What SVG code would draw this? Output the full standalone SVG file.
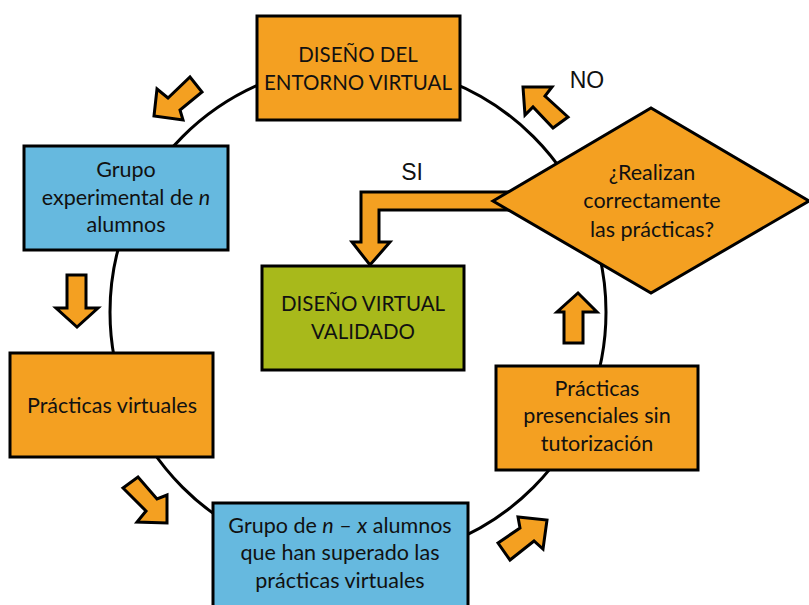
<svg xmlns="http://www.w3.org/2000/svg" width="809" height="605" viewBox="0 0 809 605">
<style>
.o{fill:#F4A021;stroke:#000;stroke-width:3;stroke-linejoin:miter}
.b{fill:#66B9DF;stroke:#000;stroke-width:3}
.g{fill:#A8B91B;stroke:#000;stroke-width:3}
.a{fill:#F4A021;stroke:#000;stroke-width:3;stroke-linejoin:miter}
text{font-family:Lato,"Open Sans","Noto Sans",sans-serif;font-size:21.5px;fill:#111;text-anchor:middle}
.up{font-size:20.5px}
.lab{font-family:"Liberation Sans",Arial,sans-serif;font-size:23px}
</style>
<rect width="809" height="605" fill="#fff"/>
<g id="connectors">
<circle cx="358" cy="312" r="248" fill="none" stroke="#000" stroke-width="3"/>
<path class="a" d="M154 116 L157 89 L168 98 L190 77 L202 92 L180 110 L183 120 Z"/>
<path class="a" d="M67 275 L86 275 L86 308 L98 308 L77 327 L56 308 L67 308 Z"/>
<path class="a" d="M123 488 L138 477 L157 499 L167 495 L167 523 L137 522 L146 511 Z"/>
<path class="a" d="M498 543 L520 528 L518 517 L547 520 L543 549 L534 541 L510 560 Z"/>
<path class="a" d="M564 343 L564 312 L557 312 L578 293 L597 312 L583 312 L583 343 Z"/>
<path class="a" d="M523 87 L552 87 L545 96 L568 117 L553 128 L533 107 L525 115 Z"/>
<path class="a" d="M520 192 L361 192 L361 242 L352 242 L370 265 L390 242 L379 242 L379 210 L520 210 Z"/>
<text class="lab" x="412" y="180">SI</text>
<text class="lab" x="587" y="88">NO</text>
</g>
<g id="n1"><rect class="o" x="257" y="16" width="203" height="104"/><text class="up" x="358" y="62">DISEÑO DEL</text><text class="up" x="358" y="90">ENTORNO VIRTUAL</text></g>
<g id="n2"><rect class="b" x="24" y="146" width="204" height="104"/><text x="126" y="177">Grupo</text><text x="126" y="205">experimental de <tspan font-style="italic">n</tspan></text><text x="126" y="232">alumnos</text></g>
<g id="n3"><rect class="g" x="262" y="266" width="202" height="104"/><text class="up" x="363" y="311">DISEÑO VIRTUAL</text><text class="up" x="363" y="339">VALIDADO</text></g>
<g id="n4"><rect class="o" x="10" y="353" width="203" height="104"/><text x="112" y="413">Prácticas virtuales</text></g>
<g id="n5"><rect class="b" x="213" y="503" width="255" height="110"/><text x="340" y="533">Grupo de <tspan font-style="italic">n</tspan> – <tspan font-style="italic">x</tspan> alumnos</text><text x="340" y="560">que han superado las</text><text x="340" y="588">prácticas virtuales</text></g>
<g id="n6"><rect class="o" x="496" y="366" width="202" height="104"/><text x="597" y="396">Prácticas</text><text x="597" y="423">presenciales sin</text><text x="597" y="451">tutorización</text></g>
<g id="n7"><path class="o" d="M493 201 L651 108 L809 201 L651 293 Z"/><text x="652" y="180">¿Realizan</text><text x="652" y="208">correctamente</text><text x="652" y="237">las prácticas?</text></g>
</svg>
